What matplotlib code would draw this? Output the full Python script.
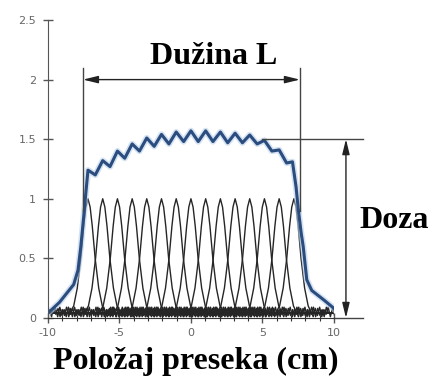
import numpy as np
import matplotlib
matplotlib.use("Agg")
import matplotlib.pyplot as plt

# Single beam centres along the section (cm); every beam peaks at 1.0
beam_centers = [-7.2, -6.17, -5.14, -4.11, -3.09, -2.06, -1.03, 0.0,
                1.03, 2.06, 3.09, 4.11, 5.14, 6.17, 7.2]
beam_height = 1.0

# One beam profile: offset from its centre (cm) and relative dose
profile_dx = [-17.5, -3.45,
              -3.3, -3.15, -3.0, -2.85, -2.7, -2.55, -2.4, -2.25, -2.1,
              -1.95, -1.8, -1.65, -1.5, -1.35, -1.2,
              -1.0, -0.75, -0.5, -0.3, -0.15, 0.0, 0.15, 0.3, 0.5, 0.75, 1.0,
              1.2, 1.35, 1.5, 1.65, 1.8, 1.95, 2.1, 2.25, 2.4, 2.55, 2.7,
              2.85, 3.0, 3.15, 3.3,
              3.45, 17.5]
profile_y = [0.04, 0.04,
             0.08, 0.01, 0.09, 0.02, 0.07, 0.01, 0.09, 0.03, 0.08,
             0.01, 0.07, 0.02, 0.09, 0.01, 0.06,
             0.10, 0.25, 0.50, 0.77, 0.93, 1.0, 0.93, 0.77, 0.50, 0.25, 0.10,
             0.05, 0.01, 0.08, 0.02, 0.09, 0.01, 0.07, 0.03, 0.09, 0.01, 0.08,
             0.02, 0.07, 0.01, 0.09,
             0.04, 0.04]

# Total dose across the section
dose_x = [-10.0, -9.2, -8.2, -7.9, -7.7, -7.5, -7.35,
          -7.2, -6.69, -6.17, -5.66, -5.14, -4.63, -4.11, -3.6, -3.09, -2.57,
          -2.06, -1.54, -1.03, -0.51, 0.0, 0.51, 1.03, 1.54, 2.06, 2.57,
          3.09, 3.6, 4.11, 4.63, 5.14, 5.66, 6.17, 6.69, 7.1,
          7.35, 7.5, 7.7, 7.85, 8.1, 8.45, 9.3, 10.0, 10.2]
dose_y = [0.04, 0.13, 0.28, 0.40, 0.60, 0.85, 1.05,
          1.24, 1.20, 1.32, 1.27, 1.40, 1.34, 1.46, 1.40, 1.51, 1.44,
          1.54, 1.46, 1.56, 1.48, 1.57, 1.48, 1.57, 1.48, 1.56, 1.47,
          1.55, 1.47, 1.535, 1.46, 1.49, 1.40, 1.41, 1.30, 1.31,
          1.10, 0.92, 0.72, 0.60, 0.32, 0.23, 0.15, 0.08, 0.05]

# Annotation values
length_left, length_right = -7.55, 7.62
dose_level = 1.5
dose_arrow_x = 10.84

yticks = [0, 0.5, 1, 1.5, 2, 2.5]
ytick_labels = ["0", "0.5", "1", "1.5", "2", "2.5"]
xticks = [-10, -5, 0, 5, 10]
xtick_labels = ["-10", "-5", "0", "5", "10"]

serif_bold = dict(family="Liberation Serif", fontweight="bold", fontsize=23)

fig = plt.figure(figsize=(4.32, 3.78), dpi=100)
ax = fig.add_axes([0.111, 0.159, 0.662, 0.788])

for c in beam_centers:
    ax.plot(np.add(c, profile_dx), np.multiply(beam_height, profile_y),
            color="#262626", lw=1.0)

ax.plot(dose_x, dose_y, color="#b8d0ea", lw=4.5, alpha=0.6,
        solid_joinstyle="round")
ax.plot(dose_x, dose_y, color="#2b4c7e", lw=2.2, solid_joinstyle="round")

ax.set_xlim(-10, 10)
ax.set_ylim(0, 2.5)
for side in ("top", "right"):
    ax.spines[side].set_visible(False)
ax.spines["left"].set_color("#555555")
ax.spines["bottom"].set_color("#333333")

ax.set_xticks(xticks, labels=xtick_labels)
ax.set_xticks(range(-10, 11), minor=True)
ax.set_yticks(yticks, labels=ytick_labels)
ax.tick_params(which="major", direction="inout", length=7, width=1.0,
               colors="#555555", labelsize=8, labelcolor="#666666")
ax.tick_params(axis="y", which="major", pad=5)
ax.tick_params(which="minor", direction="inout", length=5, width=0.8,
               colors="#333333")

# Field length marker
line_kw = dict(color="#444444", lw=1.0, clip_on=False)
ax.plot([length_left, length_left], [0.9, 2.1], **line_kw)
ax.plot([length_right, length_right], [0.9, 2.1], **line_kw)
arrow_kw = dict(arrowstyle="<|-|>,head_length=0.9,head_width=0.22",
                mutation_scale=10, color="#222222", lw=1.0,
                shrinkA=0, shrinkB=0)
ax.annotate("", xy=(length_left, 2.0), xytext=(length_right, 2.0),
            arrowprops=arrow_kw)
ax.text(1.6, 2.19, "Dužina L", ha="center", va="center", **serif_bold)

# Dose marker
ax.plot([5.0, 12.0], [dose_level, dose_level], **line_kw)
ax.plot([10.0, 12.0], [0, 0], **line_kw)
ax.annotate("", xy=(dose_arrow_x, dose_level), xytext=(dose_arrow_x, 0),
            arrowprops=arrow_kw, annotation_clip=False)
ax.text(14.2, 0.82, "Doza", ha="center", va="center", clip_on=False,
        **serif_bold)

fig.text(196 / 432, 0.024, "Položaj preseka (cm)", ha="center",
         va="baseline", **serif_bold)

fig.savefig("out.png", dpi=100)
